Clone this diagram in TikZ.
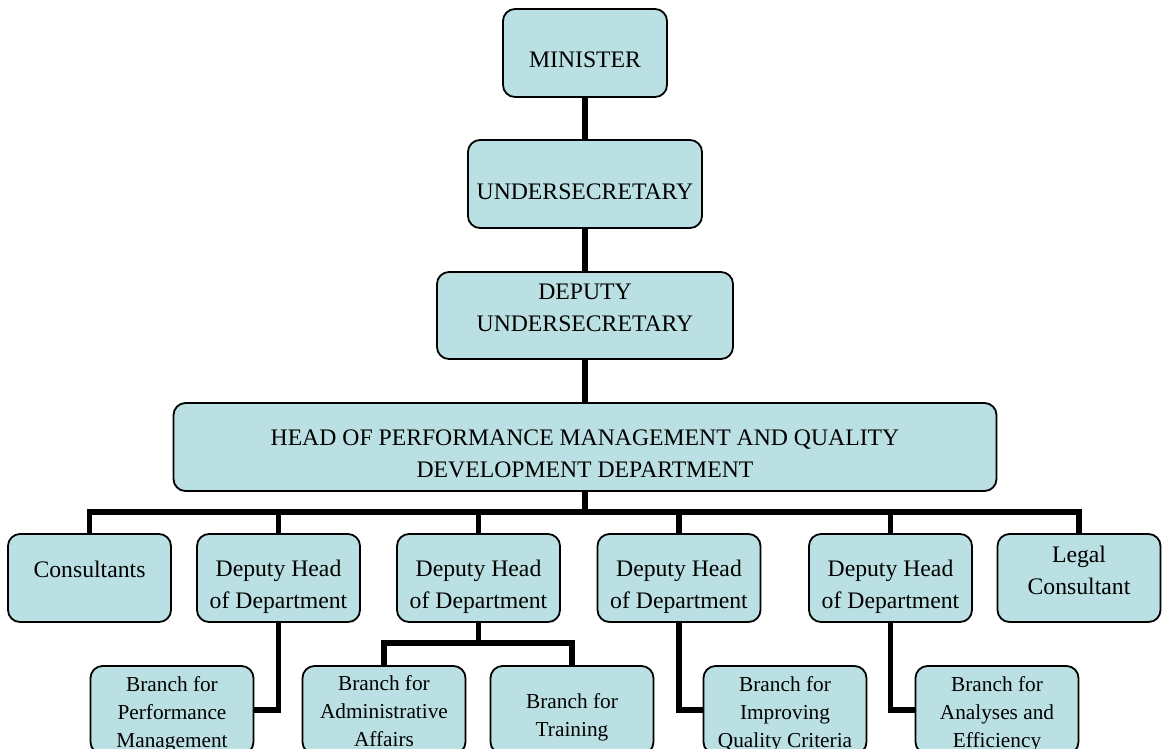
\documentclass[tikz,border=0pt]{standalone}
\usepackage{fontspec}
\setmainfont{Liberation Serif}
\usepackage{tikz}

\definecolor{boxfill}{RGB}{186,224,227}
% invisible struts to set where the text sits in a box
\newcommand{\tp}[1]{\rule{0pt}{#1pt}}
\newcommand{\bt}[1]{\rule[-#1pt]{0pt}{0pt}}

\begin{document}
\begin{tikzpicture}[
    x=1pt, y=-1pt,
    unit/.style={draw=black, line width=1.8pt, rounded corners=12pt, fill=boxfill, align=center, inner xsep=2pt, inner ysep=0pt, minimum height=88pt, font=\fontsize{23.7}{32}\selectfont},
    dept/.style={unit, minimum width=163pt},
    branch/.style={unit, minimum width=163pt, font=\fontsize{21.3}{28}\selectfont},
    link/.style={line width=5.5pt}
]
\useasboundingbox (0,0) rectangle (1162,748);

\node[unit, minimum width=164pt] (Minister) at (585,53) {\tp{30}MINISTER};
\node[unit, minimum width=234pt] (Under) at (585,184) {\tp{32}UNDERSECRETARY};
\node[unit, minimum width=296pt, minimum height=87pt] (DepUnder) at (585,315.5) {DEPUTY\\UNDERSECRETARY\bt{16.5}};
\node[unit, minimum width=823pt] (Head) at (585,447) {\tp{30}HEAD OF PERFORMANCE MANAGEMENT AND QUALITY\\DEVELOPMENT DEPARTMENT};

\node[dept] (Consultants) at (89.5,578) {Consultants\bt{18}};
\node[dept] (DepA) at (278.5,578) {\tp{35}Deputy Head\\of Department};
\node[dept] (DepB) at (478.5,578) {\tp{35}Deputy Head\\of Department};
\node[dept] (DepC) at (679,578) {\tp{35}Deputy Head\\of Department};
\node[dept] (DepD) at (890.5,578) {\tp{35}Deputy Head\\of Department};
\node[dept] (Legal) at (1079,578) {Legal\\Consultant\bt{16}};

\node[branch] (BranchPerf) at (172,710) {\tp{22.6}Branch for\\Performance\\Management};
\node[branch] (BranchAdmin) at (384,710) {\tp{18}Branch for\\Administrative\\Affairs};
\node[branch] (BranchTrain) at (572,710) {\tp{28.6}Branch for\\Training};
\node[branch] (BranchQual) at (785,710) {\tp{22.6}Branch for\\Improving\\Quality Criteria};
\node[branch] (BranchAnal) at (997,710) {\tp{22.6}Branch for\\Analyses and\\Efficiency};

\coordinate (bus) at (585,512);
\coordinate (fork) at (478.5,643);

\draw[link] (Minister.south) -- (Under.north);
\draw[link] (Under.south) -- (DepUnder.north);
\draw[link] (DepUnder.south) -- (Head.north);
\draw[link] (Head.south) -- (bus);
\draw[link] (bus) -| (Consultants.north);
\draw[link] (bus) -| (DepA.north);
\draw[link] (bus) -| (DepB.north);
\draw[link] (bus) -| (DepC.north);
\draw[link] (bus) -| (DepD.north);
\draw[link] (bus) -| (Legal.north);
\draw[link] (DepA.south) |- (BranchPerf.east);
\draw[link] (DepB.south) -- (fork);
\draw[link] (fork) -| (BranchAdmin.north);
\draw[link] (fork) -| (BranchTrain.north);
\draw[link] (DepC.south) |- (BranchQual.west);
\draw[link] (DepD.south) |- (BranchAnal.west);
\end{tikzpicture}
\end{document}
